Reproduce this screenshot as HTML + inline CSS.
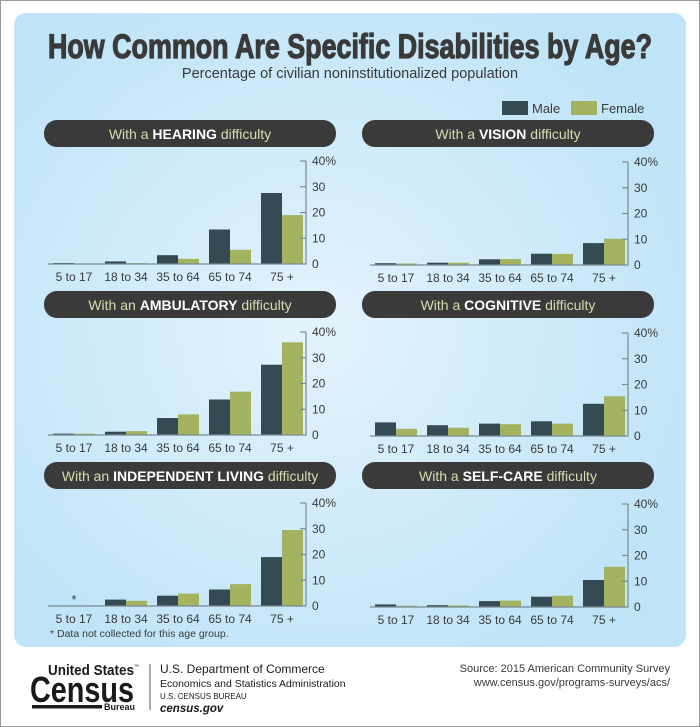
<!DOCTYPE html>
<html><head><meta charset="utf-8"><style>
body{margin:0;background:#fff}
svg{display:block;font-family:"Liberation Sans",sans-serif}
.ax{fill:#3a3a3a;font-size:12px}
.xl{fill:#3a3a3a;font-size:12px;text-anchor:middle}
.m{fill:#344b54}.f{fill:#a3b360}
.hd{fill:#d9dcae;font-size:14px;text-anchor:middle}
.hd tspan.b{fill:#fff;font-weight:bold}
</style></head><body>
<svg width="700" height="727" viewBox="0 0 700 727">
<defs>
<radialGradient id="bg" cx="0.45" cy="0.5" r="0.6"><stop offset="0" stop-color="#e3f3fc"/><stop offset="1" stop-color="#bfe4f8"/></radialGradient>
<g id="axis">
<line x1="-5" y1="0" x2="253" y2="0" stroke="#7a8a92" stroke-width="1.2"/>
<line x1="253" y1="0.5" x2="253" y2="-103" stroke="#7a8a92" stroke-width="1.2"/>
<g stroke="#7a8a92" stroke-width="1.2"><line x1="247" y1="-25.75" x2="253" y2="-25.75"/><line x1="247" y1="-51.5" x2="253" y2="-51.5"/><line x1="247" y1="-77.25" x2="253" y2="-77.25"/><line x1="247" y1="-103" x2="253" y2="-103"/></g>
<text class="ax" x="259" y="4">0</text><text class="ax" x="259" y="-21.7">10</text><text class="ax" x="259" y="-47.5">20</text><text class="ax" x="259" y="-73.2">30</text><text class="ax" x="259" y="-99">40%</text>
<text class="xl" x="21" y="17">5 to 17</text><text class="xl" x="73" y="17">18 to 34</text><text class="xl" x="125" y="17">35 to 64</text><text class="xl" x="177" y="17">65 to 74</text><text class="xl" x="229" y="17">75 +</text>
</g>
</defs>
<rect x="0.5" y="0.5" width="699" height="726" fill="#fff" stroke="#9a9a9a"/>
<rect x="14" y="13" width="672" height="634" rx="12" fill="url(#bg)"/>
<text x="350" y="58" text-anchor="middle" font-weight="bold" font-size="34" fill="#3a3a3a" stroke="#3a3a3a" stroke-width="1.2" textLength="604" lengthAdjust="spacingAndGlyphs">How Common Are Specific Disabilities by Age?</text>
<text x="350" y="78" text-anchor="middle" font-size="14.5" fill="#3a3a3a">Percentage of civilian noninstitutionalized population</text>
<rect x="502" y="101" width="26" height="14" class="m"/><text x="532" y="113" font-size="13" fill="#3a3a3a">Male</text>
<rect x="571" y="101" width="26" height="14" class="f"/><text x="601" y="113" font-size="13" fill="#3a3a3a">Female</text>

<rect x="44" y="120" width="292" height="27" rx="13" fill="#3a3a3a"/><text class="hd" x="190" y="139">With a <tspan class="b">HEARING</tspan> difficulty</text>
<rect x="362" y="120" width="292" height="27" rx="13" fill="#3a3a3a"/><text class="hd" x="508" y="139">With a <tspan class="b">VISION</tspan> difficulty</text>
<rect x="44" y="291" width="292" height="27" rx="13" fill="#3a3a3a"/><text class="hd" x="190" y="310">With an <tspan class="b">AMBULATORY</tspan> difficulty</text>
<rect x="362" y="291" width="292" height="27" rx="13" fill="#3a3a3a"/><text class="hd" x="508" y="310">With a <tspan class="b">COGNITIVE</tspan> difficulty</text>
<rect x="44" y="462" width="292" height="27" rx="13" fill="#3a3a3a"/><text class="hd" x="190" y="481">With an <tspan class="b">INDEPENDENT LIVING</tspan> difficulty</text>
<rect x="362" y="462" width="292" height="27" rx="13" fill="#3a3a3a"/><text class="hd" x="508" y="481">With a <tspan class="b">SELF-CARE</tspan> difficulty</text>

<g transform="translate(53,264)">
<rect class="m" x="0" y="-1" width="21" height="1"/><rect class="f" x="21" y="-0.5" width="21" height="0.5"/>
<rect class="m" x="52" y="-2.6" width="21" height="2.6"/><rect class="f" x="73" y="-0.8" width="21" height="0.8"/>
<rect class="m" x="104" y="-8.8" width="21" height="8.8"/><rect class="f" x="125" y="-5.2" width="21" height="5.2"/>
<rect class="m" x="156" y="-34.5" width="21" height="34.5"/><rect class="f" x="177" y="-14.2" width="21" height="14.2"/>
<rect class="m" x="208" y="-71" width="21" height="71"/><rect class="f" x="229" y="-48.9" width="21" height="48.9"/>
<use href="#axis"/></g>
<g transform="translate(375,265)">
<rect class="m" x="0" y="-1.8" width="21" height="1.8"/><rect class="f" x="21" y="-1.5" width="21" height="1.5"/>
<rect class="m" x="52" y="-2.3" width="21" height="2.3"/><rect class="f" x="73" y="-2.3" width="21" height="2.3"/>
<rect class="m" x="104" y="-5.7" width="21" height="5.7"/><rect class="f" x="125" y="-5.9" width="21" height="5.9"/>
<rect class="m" x="156" y="-11.3" width="21" height="11.3"/><rect class="f" x="177" y="-11.1" width="21" height="11.1"/>
<rect class="m" x="208" y="-21.9" width="21" height="21.9"/><rect class="f" x="229" y="-26.3" width="21" height="26.3"/>
<use href="#axis"/></g>
<g transform="translate(53,435)">
<rect class="m" x="0" y="-1.3" width="21" height="1.3"/><rect class="f" x="21" y="-1.3" width="21" height="1.3"/>
<rect class="m" x="52" y="-3.3" width="21" height="3.3"/><rect class="f" x="73" y="-3.9" width="21" height="3.9"/>
<rect class="m" x="104" y="-17" width="21" height="17"/><rect class="f" x="125" y="-20.6" width="21" height="20.6"/>
<rect class="m" x="156" y="-35.5" width="21" height="35.5"/><rect class="f" x="177" y="-43.3" width="21" height="43.3"/>
<rect class="m" x="208" y="-70.3" width="21" height="70.3"/><rect class="f" x="229" y="-92.7" width="21" height="92.7"/>
<use href="#axis"/></g>
<g transform="translate(375,436)">
<rect class="m" x="0" y="-13.6" width="21" height="13.6"/><rect class="f" x="21" y="-7.2" width="21" height="7.2"/>
<rect class="m" x="52" y="-10.8" width="21" height="10.8"/><rect class="f" x="73" y="-8.2" width="21" height="8.2"/>
<rect class="m" x="104" y="-12.4" width="21" height="12.4"/><rect class="f" x="125" y="-11.8" width="21" height="11.8"/>
<rect class="m" x="156" y="-14.7" width="21" height="14.7"/><rect class="f" x="177" y="-12.4" width="21" height="12.4"/>
<rect class="m" x="208" y="-32.2" width="21" height="32.2"/><rect class="f" x="229" y="-39.7" width="21" height="39.7"/>
<use href="#axis"/></g>
<g transform="translate(53,606)">
<text x="21" y="-2" text-anchor="middle" font-size="13" fill="#3a3a3a">*</text>
<rect class="m" x="52" y="-6.4" width="21" height="6.4"/><rect class="f" x="73" y="-5.2" width="21" height="5.2"/>
<rect class="m" x="104" y="-10.3" width="21" height="10.3"/><rect class="f" x="125" y="-12.4" width="21" height="12.4"/>
<rect class="m" x="156" y="-16.5" width="21" height="16.5"/><rect class="f" x="177" y="-21.9" width="21" height="21.9"/>
<rect class="m" x="208" y="-48.9" width="21" height="48.9"/><rect class="f" x="229" y="-76" width="21" height="76"/>
<use href="#axis"/></g>
<g transform="translate(375,607)">
<rect class="m" x="0" y="-2.6" width="21" height="2.6"/><rect class="f" x="21" y="-1.3" width="21" height="1.3"/>
<rect class="m" x="52" y="-1.8" width="21" height="1.8"/><rect class="f" x="73" y="-1.5" width="21" height="1.5"/>
<rect class="m" x="104" y="-5.9" width="21" height="5.9"/><rect class="f" x="125" y="-6.4" width="21" height="6.4"/>
<rect class="m" x="156" y="-10.3" width="21" height="10.3"/><rect class="f" x="177" y="-11.3" width="21" height="11.3"/>
<rect class="m" x="208" y="-27" width="21" height="27"/><rect class="f" x="229" y="-40.2" width="21" height="40.2"/>
<use href="#axis"/></g>
<text x="50" y="637" font-size="10.5" fill="#3a3a3a">* Data not collected for this age group.</text>

<text x="48" y="675" font-size="15" font-weight="bold" fill="#1a1a1a" textLength="86" lengthAdjust="spacingAndGlyphs">United States</text>
<text x="134" y="668" font-size="5" fill="#1a1a1a">™</text>
<text x="30" y="702" font-size="36" font-weight="bold" fill="#1a1a1a" textLength="104" lengthAdjust="spacingAndGlyphs">Census</text>
<rect x="32" y="705" width="70" height="3.5" fill="#1a1a1a"/>
<text x="104" y="710" font-size="9" font-weight="bold" fill="#1a1a1a">Bureau</text>
<line x1="150" y1="664" x2="150" y2="710" stroke="#555" stroke-width="1"/>
<text x="160" y="673" font-size="12" fill="#1a1a1a">U.S. Department of Commerce</text>
<text x="160" y="687" font-size="10.5" fill="#1a1a1a">Economics and Statistics Administration</text>
<text x="160" y="699" font-size="8" fill="#1a1a1a">U.S. CENSUS BUREAU</text>
<text x="160" y="712" font-size="11.5" font-weight="bold" font-style="italic" fill="#1a1a1a">census.gov</text>
<text x="670" y="672" text-anchor="end" font-size="11" fill="#3a3a3a">Source: 2015 American Community Survey</text>
<text x="670" y="686" text-anchor="end" font-size="11" fill="#3a3a3a">www.census.gov/programs-surveys/acs/</text>
</svg>
</body></html>
